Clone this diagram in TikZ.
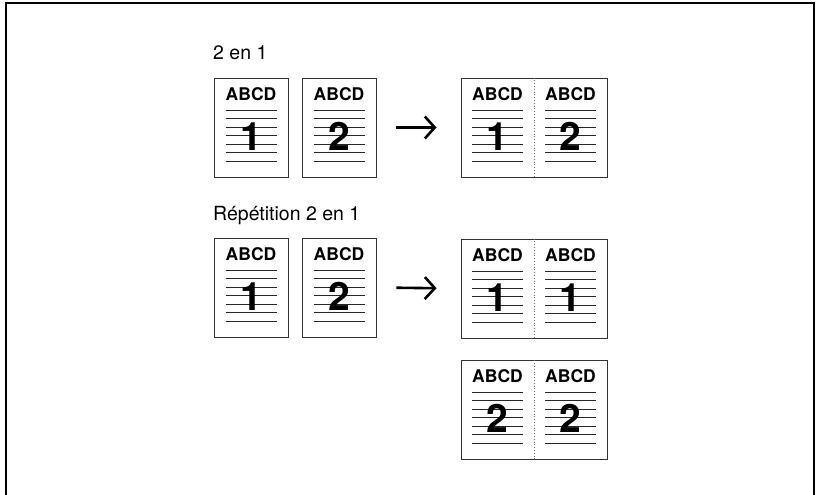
\documentclass[tikz,border=0pt]{standalone}
\usepackage{fontspec}
\setmainfont{TeX Gyre Heros}
\usepackage{tikz}
\usetikzlibrary{arrows.meta, positioning, calc}
\tikzset{
  frame/.style={line width=1.7pt, draw=black},
  pagebox/.style={
    rectangle, draw=black!80, line width=0.9pt, fill=white,
    minimum width=74pt, minimum height=99pt, inner sep=0pt},
  spreadbox/.style={
    rectangle, draw=black!80, line width=0.9pt, fill=white,
    minimum width=146pt, minimum height=99pt, inner sep=0pt},
  divider/.style={draw=black!55, line width=0.8pt, dotted},
  rulers/.style={draw=black!85, line width=1pt},
  abcd/.style={font=\fontsize{17.5}{18}\selectfont\bfseries, inner sep=0pt},
  digit/.style={font=\fontsize{39}{40}\selectfont\bfseries, inner sep=0pt},
  heading/.style={font=\fontsize{19.5}{22}\selectfont, inner sep=0pt, anchor=base west},
  arr/.style={-{Straight Barb[length=10pt,width=22pt]}, line width=2.6pt,
    shorten <=20pt, shorten >=24pt},
}
% one face of a sheet: name, centre x, top y, number
\newcommand{\sheetface}[4]{%
  \node[abcd] (#1t) at (#2,#3+16) {ABCD};
  \foreach \k in {0,...,6}
    \draw[rulers] (#2-25.5,#3+32+8.5*\k) -- ++(51,0);
  \node[digit] (#1n) at (#2,#3+58.5) {#4};
}

\begin{document}
\begin{tikzpicture}[x=1pt, y=-1pt]

  \useasboundingbox (0,0) rectangle (817,495);
  \draw[frame] (6,495) -- (6,3) -- (814,3) -- (814,495);

  % 2 en 1
  \node[heading] (lbla) at (213,60) {2 en 1};

  \node[pagebox] (p1) at (251,127.5) {};
  \node[pagebox] (p2) at (339,127.5) {};
  \node[spreadbox] (s1) at (534,127.5) {};
  \draw[divider] (s1.north) -- (s1.south);

  \sheetface{pa}{251}{78}{1}
  \sheetface{pb}{339}{78}{2}
  \sheetface{sa}{497.5}{78}{1}
  \sheetface{sb}{570.5}{78}{2}

  \draw[arr] (p2.east) -- (s1.west);

  % Repetition 2 en 1
  \node[heading] (lblb) at (213,220.5) {Répétition 2 en 1};

  \node[pagebox] (p3) at (251,287.5) {};
  \node[pagebox] (p4) at (339,287.5) {};
  \node[spreadbox] (s2) at (534,288.5) {};
  \node[spreadbox, below=22pt of s2] (s3) {};
  \draw[divider] (s2.north) -- (s2.south);
  \draw[divider] (s3.north) -- (s3.south);

  \sheetface{pc}{251}{238}{1}
  \sheetface{pd}{339}{238}{2}
  \sheetface{sc}{497.5}{239}{1}
  \sheetface{sd}{570.5}{239}{1}
  \sheetface{se}{497.5}{360}{2}
  \sheetface{sf}{570.5}{360}{2}

  \draw[arr] (p4.east) -- (s2.west);

\end{tikzpicture}
\end{document}
